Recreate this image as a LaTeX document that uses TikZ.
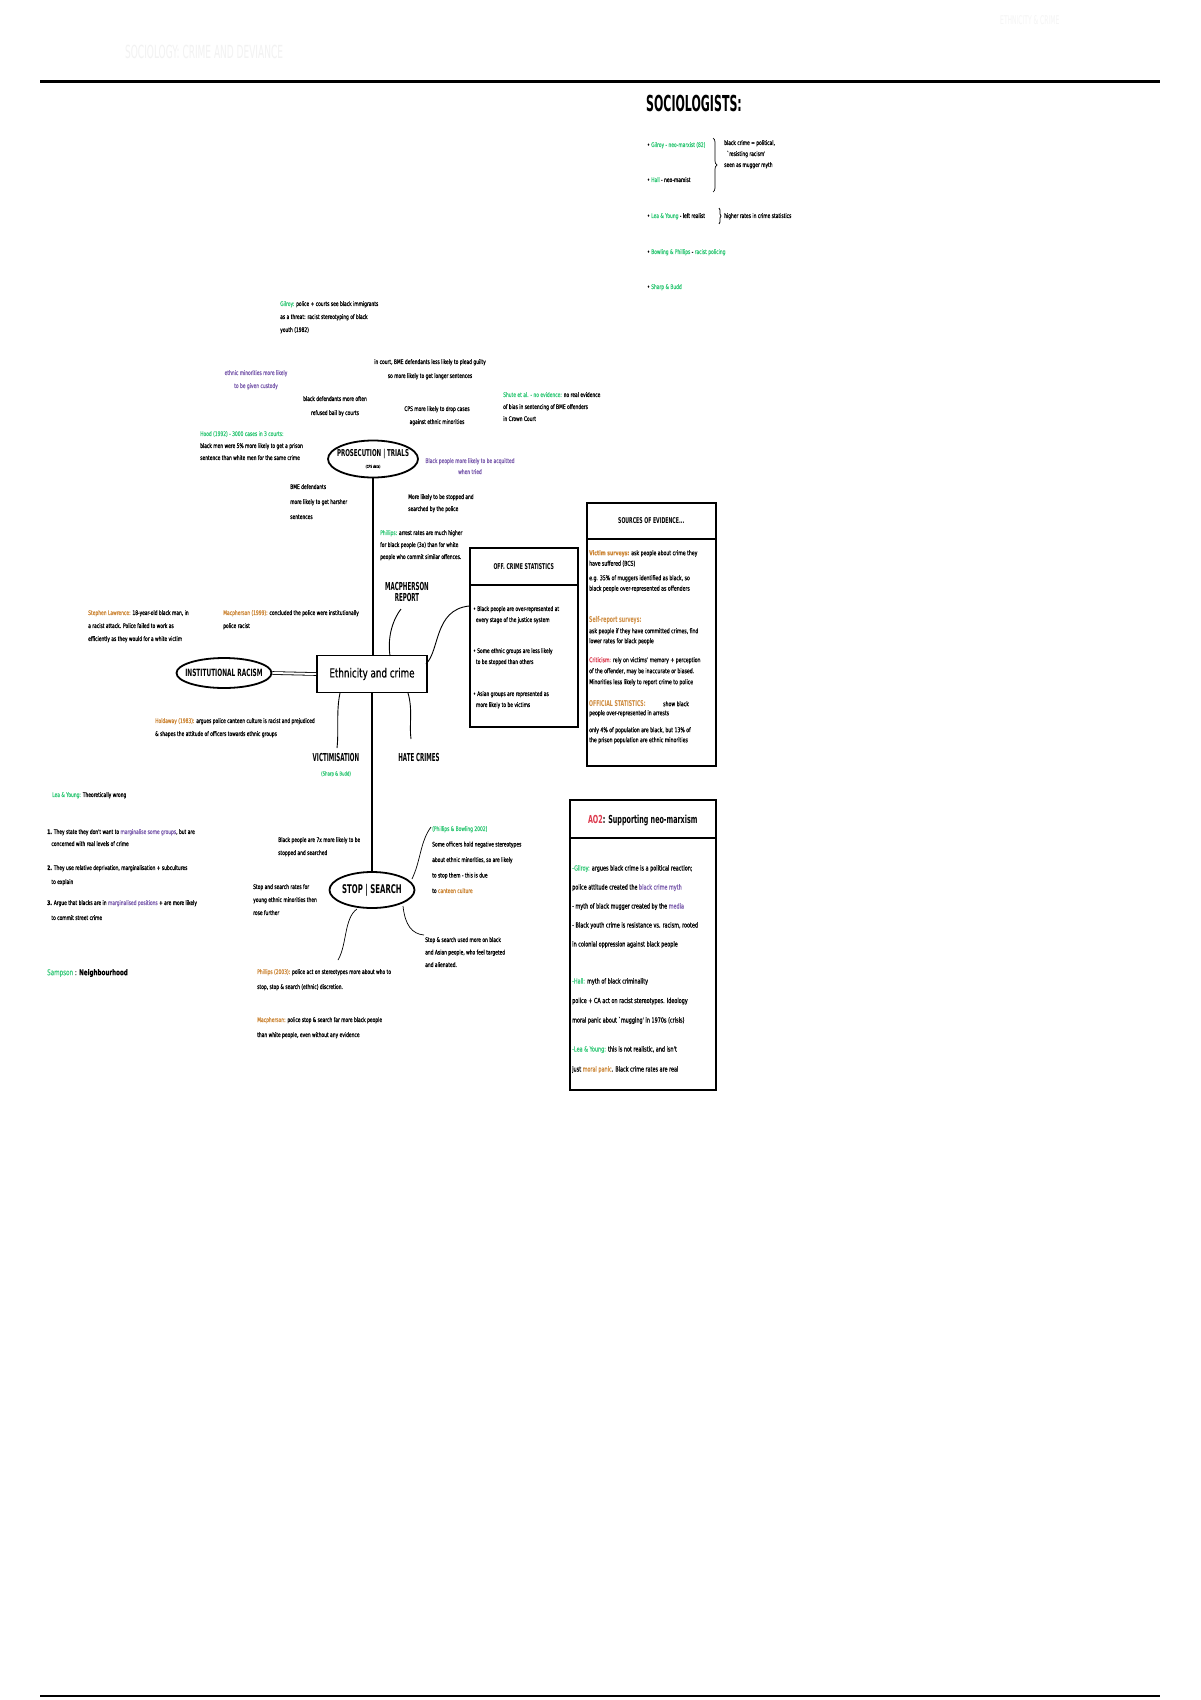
\documentclass[tikz,border=0pt]{standalone}
\usepackage{fontspec}
\setmainfont{DejaVu Sans}
\newfontfamily\hand[FakeStretch=0.7, FakeBold=0.5]{DejaVu Sans}
\newfontfamily\handc[FakeStretch=0.58]{DejaVu Sans}
\newfontfamily\handn[FakeStretch=0.5]{DejaVu Sans}
\usetikzlibrary{shapes.geometric,decorations.pathreplacing,calc}
\definecolor{hgreen}{RGB}{52,201,120}
\definecolor{hpurple}{RGB}{125,95,175}
\definecolor{horange}{RGB}{205,135,55}
\definecolor{hred}{RGB}{220,55,75}
\tikzset{
  sm/.style={font=\hand\fontsize{6.3}{#1}\selectfont, inner sep=0pt, anchor=north west, align=left},
  sm/.default=12,
  smc/.style={sm=#1, anchor=north, align=center},
  smc/.default=12,
  oval/.style={ellipse, draw, line width=1.8pt, inner xsep=-9pt, inner ysep=0pt, align=center},
  lbl/.style={font=\handn\bfseries\fontsize{11}{11}\selectfont, inner sep=0pt, align=center},
  link/.style={line width=0.9pt},
  frame/.style={draw, line width=1.5pt, anchor=north west, inner sep=0pt},
  sep/.style={line width=1.3pt},
  head/.style={font=\handc\bfseries\fontsize{8}{9}\selectfont, inner sep=0pt},
}
\begin{document}
\begin{tikzpicture}[x=1pt,y=-1pt]
\useasboundingbox[fill=white] (0,0) rectangle (1200,1700);

% faint header
\node[font=\handn\fontsize{18}{18}\selectfont, text=black!5, anchor=west, inner sep=0pt] (ghost1) at (125,52) {SOCIOLOGY: CRIME AND DEVIANCE};
\node[font=\handn\fontsize{12}{12}\selectfont, text=black!4, anchor=west, inner sep=0pt] (ghost2) at (1000,20) {ETHNICITY \& CRIME};

% rules
\coordinate (r1a) at (40,81); \coordinate (r1b) at (1160,81);
\draw[line width=3pt] (r1a) -- (r1b);
\coordinate (r2a) at (40,1696); \coordinate (r2b) at (1160,1696);
\draw[line width=2.5pt] (r2a) -- (r2b);

% Sociologists
\node[font=\handn\bfseries\fontsize{22}{22}\selectfont, anchor=west, inner sep=0pt] (soctitle) at (646,103) {SOCIOLOGISTS:};
\node[sm] (so1) at (647,142) {\textbullet\ \textcolor{hgreen}{Gilroy - neo-marxist (82)}};
\node[sm] (so2) at (647,177) {\textbullet\ \textcolor{hgreen}{Hall} - neo-marxist};
\coordinate (br1a) at (713,138); \coordinate (br1b) at (713,192);
\draw[line width=0.7pt, decorate, decoration={brace, amplitude=4pt}] (br1a) -- (br1b);
\node[sm=11, anchor=north west] (sobr) at (724,140) {black crime = political,\\\ \ `resisting racism'\\seen as mugger myth};
\node[sm] (so3) at (647,213) {\textbullet\ \textcolor{hgreen}{Lea \& Young} - left realist};
\coordinate (br2a) at (719,208); \coordinate (br2b) at (719,224);
\draw[line width=0.7pt, decorate, decoration={brace, amplitude=2pt}] (br2a) -- (br2b);
\node[sm] (so3b) at (724,213) {higher rates in crime statistics};
\node[sm] (so4) at (647,249) {\textbullet\ \textcolor{hgreen}{Bowling \& Phillips} - \textcolor{hgreen}{racist policing}};
\node[sm] (so5) at (647,284) {\textbullet\ \textcolor{hgreen}{Sharp \& Budd}};

% main nodes
\node[oval, minimum width=90, minimum height=37] (pros) at (373,459) {\handc\bfseries\fontsize{9.5}{9.5}\selectfont PROSECUTION \textbar{} TRIALS\\[-1pt]\hand\fontsize{4}{4}\selectfont (CPS data)};
\node[draw, line width=1.6pt, minimum width=110, minimum height=37, inner sep=0pt, font=\hand\fontsize{12.5}{13}\selectfont] (eth) at (372,674) {Ethnicity and crime};
\node[oval, minimum width=95, minimum height=30] (inst) at (224,673) {\handc\bfseries\fontsize{10}{10}\selectfont INSTITUTIONAL RACISM};
\node[oval, minimum width=85, minimum height=36] (stop) at (372,890) {\handc\bfseries\fontsize{12}{12}\selectfont STOP \textbar{} SEARCH};
\node[lbl] (mac) at (407,592) {MACPHERSON\\REPORT};
\node[lbl] (victim) at (336,757) {VICTIMISATION};
\node[font=\hand\fontsize{5.5}{6}\selectfont, text=hgreen, inner sep=0pt] (victsub) at (336,774) {(Sharp \& Budd)};
\node[lbl] (hate) at (419,757) {HATE CRIMES};

% connectors
\draw[link, line width=1.1pt] (pros.south) -- (pros.south |- eth.north);
\draw[link, line width=1.1pt] (eth.south -| stop.north) -- (stop.north);
\draw[double, double distance=2pt, line width=0.8pt] (inst.east) -- (eth.west);
\coordinate (macA) at (390,656);
\draw[link] (macA) .. controls (387,635) and (394,618) .. (401,609);
\coordinate (stA) at (426,664);
\draw[link] (stA) .. controls (440,650) and (434,610) .. (469,606);
\coordinate (vcA) at (340,693);
\draw[link] (vcA) .. controls (336,712) and (339,730) .. (337,748);
\coordinate (hcA) at (408,693);
\draw[link] (hcA) .. controls (413,710) and (409,725) .. (411,739);
\coordinate (sq1) at (412,879); \coordinate (sq2) at (431,827);
\draw[line width=0.7pt] (sq1) .. controls (421,860) and (420,842) .. (sq2);
\coordinate (sr1) at (403,906); \coordinate (sr2) at (424,935);
\draw[line width=0.7pt] (sr1) .. controls (405,925) and (412,934) .. (sr2);
\coordinate (ss1) at (357,909); \coordinate (ss2) at (338,960);
\draw[line width=0.7pt] (ss1) .. controls (344,918) and (347,945) .. (ss2);

% text blocks around prosecution
\node[sm=13] (tA) at (280,301) {\textcolor{hgreen}{Gilroy:} police + courts see black immigrants\\as a threat: racist stereotyping of black\\youth (1982)};
\node[smc=13, text=hpurple] (tB) at (256,370) {ethnic minorities more likely\\to be given custody};
\node[smc=14] (tC) at (430,359) {in court, BME defendants less likely to plead guilty\\so more likely to get longer sentences};
\node[smc=14] (tD) at (335,396) {black defendants more often\\refused bail by courts};
\node[smc=13] (tE) at (437,406) {CPS more likely to drop cases\\against ethnic minorities};
\node[sm=12] (tF) at (503,392) {\textcolor{hgreen}{Shute et al. - no evidence:} no real evidence\\of bias in sentencing of BME offenders\\in Crown Court};
\node[sm=12] (tG) at (200,431) {\textcolor{hgreen}{Hood (1992) - 3000 cases in 3 courts:}\\black men were 5\% more likely to get a prison\\sentence than white men for the same crime};
\node[smc=11, text=hpurple] (tH) at (470,458) {Black people more likely to be acquitted\\when tried};
\node[sm=15] (tI) at (290,484) {BME defendants\\more likely to get harsher\\sentences};
\node[sm=12] (tJ) at (408,494) {More likely to be stopped and\\searched by the police};
\node[sm=12] (tK) at (380,530) {\textcolor{hgreen}{Phillips:} arrest rates are much higher\\for black people (3x) than for white\\people who commit similar offences.};

% around centre
\node[sm=13] (tL) at (88,610) {\textcolor{horange}{Stephen Lawrence:} 18-year-old black man, in\\a racist attack. Police failed to work as\\efficiently as they would for a white victim};
\node[sm=13] (tM) at (223,610) {\textcolor{horange}{Macpherson (1999):} concluded the police were institutionally\\police racist};
\node[sm=13] (tN) at (155,718) {\textcolor{horange}{Holdaway (1983):} argues police canteen culture is racist and prejudiced\\\& shapes the attitude of officers towards ethnic groups};

% left column
\node[sm] (lea) at (52,792) {\textcolor{hgreen}{Lea \& Young:} Theoretically wrong};
\node[sm=12] (l1) at (47,829) {\textbf{1.} They state they don't want to \textcolor{hpurple}{marginalise some groups}, but are\\\ \ \ concerned with real levels of crime};
\node[sm=14] (l2) at (47,865) {\textbf{2.} They use relative deprivation, marginalisation + subcultures\\\ \ \ to explain};
\node[sm=15] (l3) at (47,900) {\textbf{3.} Argue that blacks are in \textcolor{hpurple}{marginalised positions} + are more likely\\\ \ \ to commit street crime};
\node[font=\hand\fontsize{8}{9}\selectfont, anchor=west, inner sep=0pt] (samp) at (47,973) {\textcolor{hgreen}{Sampson} : \textbf{Neighbourhood}};

% stop and search
\node[sm=13] (tO) at (278,837) {Black people are 7x more likely to be\\stopped and searched};
\node[sm=13] (tP) at (253,884) {Stop and search rates for\\young ethnic minorities then\\rose further};
\node[sm=15.5] (tQ) at (432,826) {\textcolor{hgreen}{(Phillips \& Bowling 2002)}\\Some officers hold negative stereotypes\\about ethnic minorities, so are likely\\to stop them - this is due\\to \textcolor{horange}{canteen culture}};
\node[sm=12.5] (tR) at (425,937) {Stop \& search used more on black\\and Asian people, who feel targeted\\and alienated.};
\node[sm=15] (tS) at (257,969) {\textcolor{horange}{Phillips (2003):} police act on stereotypes more about who to\\stop, stop \& search (ethnic) discretion.};
\node[sm=15] (tT) at (257,1017) {\textcolor{horange}{Macpherson:} police stop \& search far more black people\\than white people, even without any evidence};

% crime statistics box
\node[frame, minimum width=108, minimum height=179] (stats) at (469,547) {};
\draw[sep] ($(stats.north west)+(0,38)$) -- ($(stats.north east)+(0,38)$);
\node[head] (statsh) at ($(stats.north)+(0,20)$) {OFF. CRIME STATISTICS};
\node[sm=11] (st1) at (473,606) {\textbullet\ Black people are over-represented at\\\ \ every stage of the justice system};
\node[sm=11] (st2) at (473,648) {\textbullet\ Some ethnic groups are less likely\\\ \ to be stopped than others};
\node[sm=11] (st3) at (473,691) {\textbullet\ Asian groups are represented as\\\ \ more likely to be victims};

% sources box
\node[frame, minimum width=129, minimum height=263] (src) at (586,502) {};
\draw[sep] ($(src.north west)+(0,37)$) -- ($(src.north east)+(0,37)$);
\node[head] (srch) at ($(src.north)+(0,19)$) {SOURCES OF EVIDENCE...};
\node[sm=10.5, font=\hand\fontsize{6.6}{10.5}\selectfont] (s1) at (589,550) {\textcolor{horange}{\bfseries Victim surveys:} ask people about crime they\\have suffered (BCS)};
\node[sm=10.5, font=\hand\fontsize{6.6}{10.5}\selectfont] (s1b) at (589,575) {e.g. 35\% of muggers identified as black, so\\black people over-represented as offenders};
\node[font=\handc\bfseries\fontsize{8}{8}\selectfont, text=horange, anchor=west, inner sep=0pt] (s2h) at (589,620) {Self-report surveys:};
\node[sm=10, font=\hand\fontsize{6.6}{10}\selectfont] (s2) at (589,628) {ask people if they have committed crimes, find\\lower rates for black people};
\node[sm=11, font=\hand\fontsize{6.6}{11}\selectfont] (s3) at (589,657) {\textcolor{hred}{Criticism:} rely on victims' memory + perception\\of the offender, may be inaccurate or biased.\\Minorities less likely to report crime to police};
\node[font=\handc\bfseries\fontsize{8}{8}\selectfont, anchor=west, inner sep=0pt] (s4h) at (589,704) {\textcolor{horange}{OFFICIAL STATISTICS:}};
\node[sm, font=\hand\fontsize{6.6}{10}\selectfont] (s4a) at (663,701) {show black};
\node[sm=10, font=\hand\fontsize{6.6}{10}\selectfont] (s4) at (589,710) {people over-represented in arrests};
\node[sm=10, font=\hand\fontsize{6.6}{10}\selectfont] (s4b) at (589,727) {only 4\% of population are black, but 13\% of\\the prison population are ethnic minorities};

% AO2 box
\node[frame, minimum width=146, minimum height=290] (ao) at (569,799) {};
\draw[sep] ($(ao.north west)+(0,39)$) -- ($(ao.north east)+(0,39)$);
\node[font=\handc\bfseries\fontsize{11}{12}\selectfont, inner sep=0pt] (aoh) at ($(ao.north)+(0,21)$) {\textcolor{hred}{AO2}: Supporting neo-marxism};
\node[sm=19, font=\hand\fontsize{7}{19}\selectfont] (a1) at (572,865) {\textcolor{hgreen}{-Gilroy:} argues black crime is a political reaction;\\police attitude created the \textcolor{hpurple}{black crime myth}\\- myth of black mugger created by the \textcolor{hpurple}{media}\\- Black youth crime is resistance vs. racism, rooted\\in colonial oppression against black people};
\node[sm=19.5, font=\hand\fontsize{7}{19.5}\selectfont] (a2) at (572,978) {\textcolor{hgreen}{-Hall:} myth of black criminality\\police + CA act on racist stereotypes. Ideology\\moral panic about `mugging' in 1970s (crisis)};
\node[sm=20, font=\hand\fontsize{7}{20}\selectfont] (a3) at (572,1046) {\textcolor{hgreen}{-Lea \& Young:} this is not realistic, and isn't\\just \textcolor{horange}{moral panic}. Black crime rates are real};

\end{tikzpicture}
\end{document}
